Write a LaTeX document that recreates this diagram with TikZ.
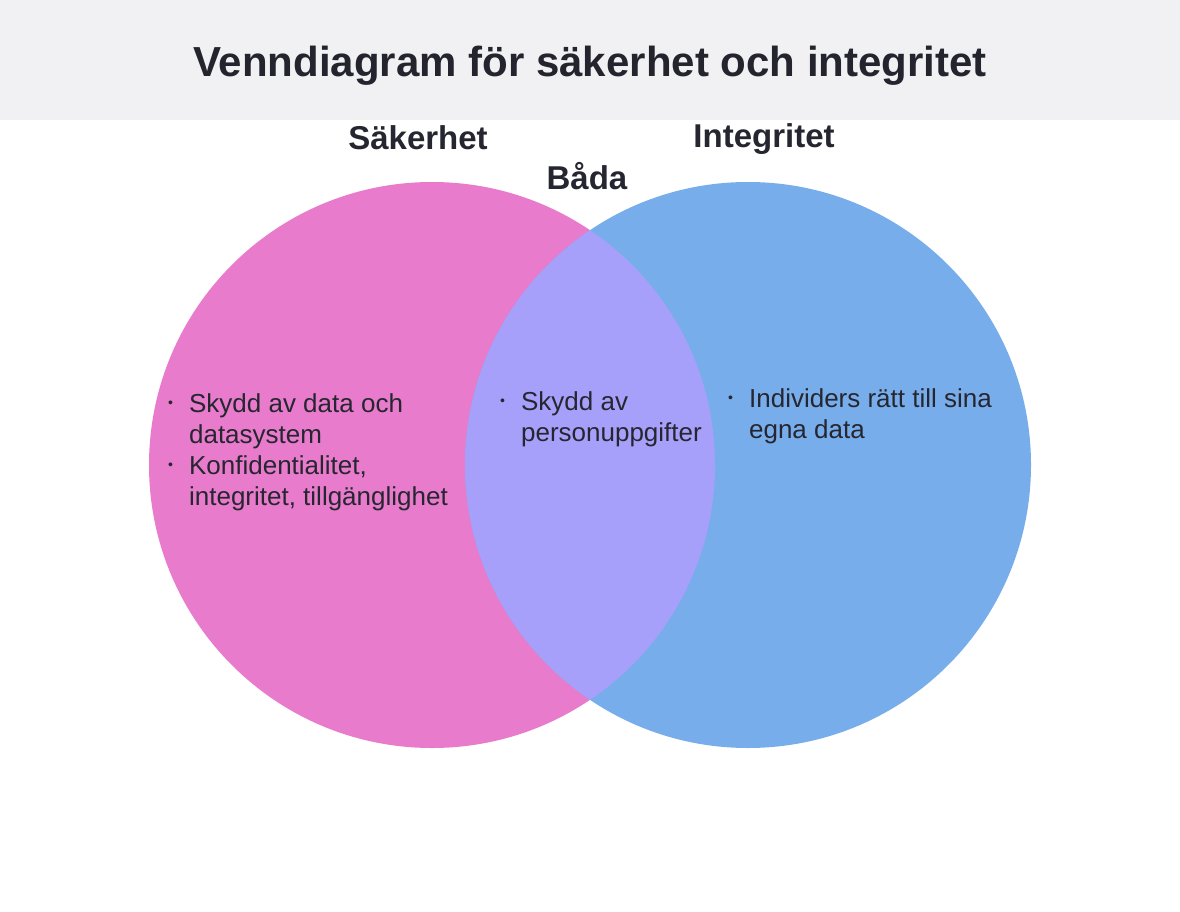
\documentclass[tikz,border=0pt]{standalone}
\usepackage{fontspec}
\setmainfont{Liberation Sans}
\usepackage{tikz}
\usetikzlibrary{positioning}

\definecolor{band}{HTML}{F1F1F3}
\definecolor{pinkset}{HTML}{E87BCB}
\definecolor{blueset}{HTML}{78ADEB}
\definecolor{bothset}{HTML}{A7A0FB}
\definecolor{ink}{HTML}{262630}

\newcommand{\vbul}{\raisebox{5pt}{\fontsize{14}{14}\selectfont\textbullet}}

\tikzset{
    heading/.style={font=\bfseries\fontsize{33}{33}\selectfont, text=ink, inner sep=0pt},
    points/.style={font=\fontsize{26}{31}\selectfont, text=ink, inner sep=0pt, anchor=base west},
}

\begin{document}
\begin{tikzpicture}[x=1pt, y=-1pt]
        \useasboundingbox (0,0) rectangle (1180,912);
        \fill[white] (0,0) rectangle (1180,912);
        \fill[band] (0,0) rectangle (1180,120);
        \node[font=\bfseries\fontsize{42}{42}\selectfont, text=ink!95!black] (title) at (590,66) {Venndiagram för säkerhet och integritet};

        % the two sets
        \fill[pinkset] (432,465) circle (283);
        \fill[blueset] (748,465) circle (283);
        \begin{scope}
            \clip (432,465) circle (283);
            \fill[bothset] (748,465) circle (283);
        \end{scope}

        \node[heading] (sak) at (418,138) {Säkerhet};
        \node[heading] (integ) at (764,139) {Integritet};
        \node[heading] (bada) at (587,176) {Båda};

        \node[points] (saktext) at (168,412) {\begin{tabular}[t]{@{}l@{\hspace{16pt}}l@{}}
            \vbul & Skydd av data och\\
                  & datasystem\\
            \vbul & Konfidentialitet,\\
                  & integritet, tillgänglighet
        \end{tabular}};
        \node[points] (badatext) at (500,410) {\begin{tabular}[t]{@{}l@{\hspace{16pt}}l@{}}
            \vbul & Skydd av\\
                  & personuppgifter
        \end{tabular}};
        \node[points] (integtext) at (728,407) {\begin{tabular}[t]{@{}l@{\hspace{16pt}}l@{}}
            \vbul & Individers rätt till sina\\
                  & egna data
        \end{tabular}};
\end{tikzpicture}
\end{document}
